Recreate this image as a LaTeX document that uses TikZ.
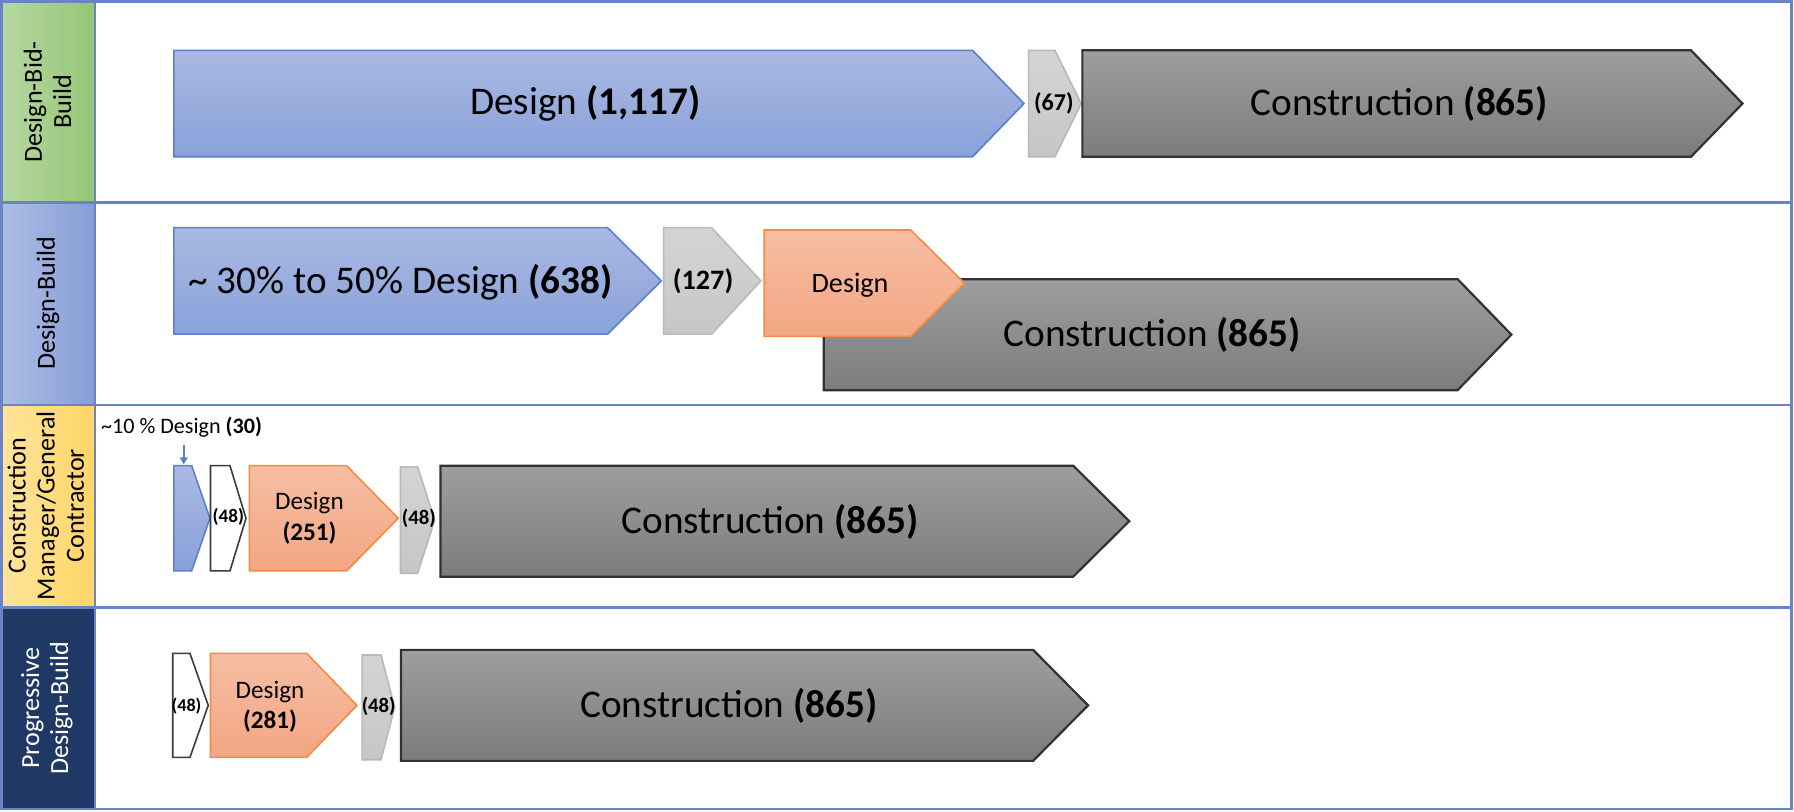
\documentclass[tikz,border=0pt]{standalone}
\usepackage{fontspec}
\setmainfont{Carlito}
\usetikzlibrary{arrows.meta}

\definecolor{gridblue}{RGB}{104,132,196}
\definecolor{bluetop}{RGB}{170,185,226}
\definecolor{bluebot}{RGB}{137,161,217}
\definecolor{bluebd}{RGB}{90,128,204}
\definecolor{graytop}{RGB}{212,212,212}
\definecolor{graybot}{RGB}{198,198,198}
\definecolor{graybd}{RGB}{185,185,185}
\definecolor{contop}{RGB}{158,158,158}
\definecolor{conbot}{RGB}{124,124,124}
\definecolor{conbd}{RGB}{50,50,50}
\definecolor{orgtop}{RGB}{246,190,164}
\definecolor{orgbot}{RGB}{243,166,130}
\definecolor{orgbd}{RGB}{240,140,70}
\definecolor{whitebd}{RGB}{60,60,60}
\definecolor{greenL}{RGB}{182,216,162}
\definecolor{greenR}{RGB}{150,197,118}
\definecolor{blueL}{RGB}{174,189,229}
\definecolor{blueR}{RGB}{134,158,215}
\definecolor{yellowL}{RGB}{255,228,155}
\definecolor{yellowR}{RGB}{255,213,102}
\definecolor{navy}{RGB}{31,56,100}

% chevron: style, left, top, tip, bottom, depth
\newcommand{\chevbox}[6]{%
  \filldraw[#1] (#2,#3) -- ({#4-#6},#3) -- (#4,{(#3+#5)/2}) -- ({#4-#6},#5) -- (#2,#5) -- cycle;}

\begin{document}
\begin{tikzpicture}[x=0.2mm, y=-0.2mm,
    bluearr/.style={draw=bluebd, top color=bluetop, bottom color=bluebot, line width=0.8pt},
    grayarr/.style={draw=graybd, top color=graytop, bottom color=graybot, line width=0.8pt},
    conarr/.style={draw=conbd, top color=contop, bottom color=conbot, line width=1.1pt},
    orgarr/.style={draw=orgbd, top color=orgtop, bottom color=orgbot, line width=0.8pt},
    whitearr/.style={draw=whitebd, fill=white, line width=0.8pt},
    bigtxt/.style={inner sep=0pt, font=\fontsize{19.5}{23}\selectfont},
    midtxt/.style={inner sep=0pt, align=center, font=\fontsize{14}{17}\selectfont},
    dsgtxt/.style={inner sep=0pt, align=center, font=\fontsize{12.5}{15}\selectfont},
    smalltxt/.style={inner sep=0pt, font=\fontsize{9.5}{11}\selectfont\bfseries},
    lanelab/.style={inner sep=0pt, align=center, rotate=90, font=\fontsize{13}{14.5}\selectfont}]
    \useasboundingbox (0,0) rectangle (1568,709);

    % lane labels
    \fill[left color=greenL, right color=greenR] (0,0) rectangle (83,177);
    \fill[left color=blueL, right color=blueR] (0,177) rectangle (83,354);
    \fill[left color=yellowL, right color=yellowR] (0,354) rectangle (83,531);
    \fill[navy] (0,531) rectangle (83,708);
    \node[lanelab] (lab1) at (41.5,89) {Design-Bid-\\Build};
    \node[lanelab] (lab2) at (42,265) {Design-Build};
    \node[lanelab] (lab3) at (40,442) {Construction\\Manager/General\\Contractor};
    \node[lanelab, text=white] (lab4) at (41,619) {Progressive\\Design-Build};

    % grid
    \draw[gridblue, line width=1.4pt] (1,1) rectangle (1566,707);
    \draw[gridblue, line width=1.4pt] (83,1) -- (83,707);
    \draw[gridblue, line width=1.4pt] (0,177) -- (1566,177);
    \draw[gridblue, line width=1.4pt] (0,354) -- (1566,354);
    \draw[gridblue, line width=1.4pt] (0,531) -- (1566,531);

    % design-bid-build
    \chevbox{bluearr}{152}{44}{895}{137}{45}
    \chevbox{grayarr}{899}{44}{945}{137}{23}
    \chevbox{conarr}{946}{44}{1523}{137}{45}
    \node[bigtxt] (dsg1) at (511.5,90) {Design \textbf{(1,117)}};
    \node[inner sep=0pt, font=\fontsize{12}{14}\selectfont\bfseries] (bid1) at (921,90) {(67)};
    \node[bigtxt] (con1) at (1223,90.5) {Construction \textbf{(865)}};

    % design-build
    \chevbox{bluearr}{152}{199}{578}{292}{47}
    \chevbox{grayarr}{580}{199}{665}{292}{43}
    \chevbox{conarr}{720}{244}{1321}{341}{47}
    \chevbox{orgarr}{668}{201}{843}{294}{47}
    \node[bigtxt] (dsg2) at (350,247) {\textasciitilde{} 30\% to 50\% Design \textbf{(638)}};
    \node[midtxt, font=\fontsize{14}{17}\selectfont\bfseries] (bid2) at (614.5,246) {(127)};
    \node[midtxt] (org2) at (743,249) {Design};
    \node[bigtxt] (con2) at (1007,293) {Construction \textbf{(865)}};

    % cm/gc
    \node[inner sep=0pt, anchor=west, font=\fontsize{11}{13}\selectfont] (pre3) at (88,373) {\textasciitilde10 \% Design \textbf{(30)}};
    \coordinate (pre3a) at (160.6,389);
    \coordinate (pre3b) at (160.6,406);
    \draw[bluebd, line width=0.9pt, -{Triangle[length=3.5pt,width=3.8pt]}] (pre3a) -- (pre3b);
    \chevbox{bluearr}{152}{407}{183.5}{499}{16}
    \chevbox{whitearr}{184}{407}{215}{499}{14}
    \chevbox{orgarr}{218}{407}{348}{499}{45}
    \chevbox{grayarr}{350}{408}{380}{501}{15}
    \chevbox{conarr}{385}{407}{987}{504}{49}
    \node[smalltxt] (gap3) at (199.6,452) {(48)};
    \node[dsgtxt] (org3) at (270.5,453) {Design\\\textbf{(251)}};
    \node[smalltxt, font=\fontsize{10.3}{12}\selectfont\bfseries] (bid3) at (366,453) {(48)};
    \node[bigtxt] (con3) at (673,456) {Construction \textbf{(865)}};

    % progressive design-build
    \chevbox{whitearr}{151}{571}{182}{662}{16}
    \chevbox{orgarr}{184}{571}{312}{662}{44}
    \chevbox{grayarr}{316.5}{572.5}{345}{664}{12}
    \chevbox{conarr}{350.5}{568}{951}{665}{48}
    \node[smalltxt, font=\fontsize{9}{11}\selectfont\bfseries] (gap4) at (163,617) {(48)};
    \node[dsgtxt] (org4) at (236,618) {Design\\\textbf{(281)}};
    \node[smalltxt, font=\fontsize{10.3}{12}\selectfont\bfseries] (bid4) at (331,617) {(48)};
    \node[bigtxt] (con4) at (637,617) {Construction \textbf{(865)}};
\end{tikzpicture}
\end{document}
